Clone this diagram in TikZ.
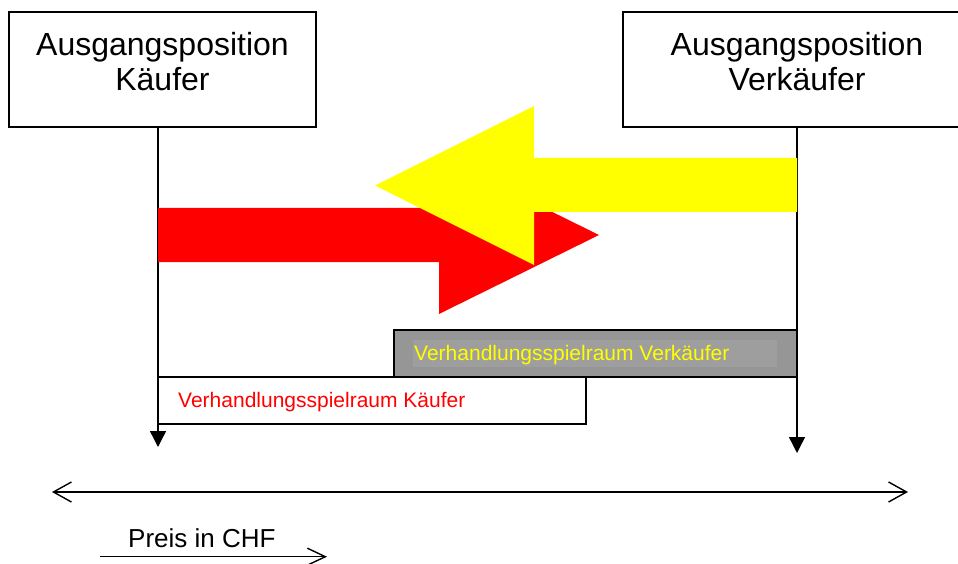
\documentclass[tikz,border=0pt]{standalone}
\usepackage{fontspec}
\setmainfont{Liberation Sans}
\usetikzlibrary{arrows.meta}
\definecolor{grayout}{RGB}{150,150,150}
\definecolor{grayin}{RGB}{158,158,158}
\definecolor{yel}{RGB}{255,255,0}
\definecolor{rd}{RGB}{255,0,0}
\begin{document}
\begin{tikzpicture}[x=1pt,y=-1pt,
  posbox/.style={draw=black,line width=1.4pt,fill=white,inner sep=0pt},
  bigtext/.style={font=\fontsize{32}{35}\selectfont,align=center,inner sep=0pt,anchor=north},
  smalltext/.style={font=\fontsize{21}{24}\selectfont,inner sep=0pt,anchor=base west},
  conn/.style={line width=1.4pt,draw=black},
  downarrow/.style={conn,-{Triangle[length=16pt,width=16pt]}},
  barb/.tip={Straight Barb[length=18pt,width=20pt,line width=1.4pt]}]
\useasboundingbox (0,0) rectangle (958,564);
\fill[white] (0,0) rectangle (958,564);
% starting-position boxes
\node[posbox,minimum width=307pt,minimum height=115pt] (kbox) at (162.5,69.5) {};
\node[bigtext] (ktext) at (162.5,32) {Ausgangsposition\\Käufer};
\node[posbox,minimum width=348pt,minimum height=115pt] (vbox) at (797,69.5) {};
\node[bigtext] (vtext) at (797,32) {Ausgangsposition\\Verkäufer};
% line anchors
\coordinate (kt) at (158,127);
\coordinate (kb) at (158,447);
\coordinate (vt) at (797,127);
\coordinate (vb) at (797,453);
% negotiation ranges
\node[posbox,fill=grayout,minimum width=403pt,minimum height=47pt] (vrange) at (595.5,353.5) {};
\fill[grayin] (413,340) rectangle (777,367);
\node[smalltext,text=yel] (vrtext) at (414,360) {Verhandlungsspielraum Verkäufer};
\node[posbox,minimum width=428pt,minimum height=47pt] (krange) at (372,400.5) {};
\node[smalltext,text=rd] (krtext) at (178,407) {Verhandlungsspielraum Käufer};
% vertical lines
\draw[downarrow] (kt) -- (kb);
\draw[downarrow] (vt) -- (vb);
% big block arrows
\fill[rd] (158,208) -- (439,208) -- (439,156) -- (599,235) -- (439,314) -- (439,262) -- (158,262) -- cycle;
\fill[yel] (797,158) -- (534,158) -- (534,106) -- (375,185.5) -- (534,265) -- (534,212) -- (797,212) -- cycle;
% price axis
\coordinate (al) at (52,492);
\coordinate (ar) at (908,492);
\draw[conn,barb-barb] (al) -- (ar);
\node[font=\fontsize{26}{30}\selectfont,inner sep=0pt,anchor=base west] (preis) at (128,547) {Preis in CHF};
\coordinate (pl) at (100,556.7);
\coordinate (pr) at (327,556.7);
\draw[conn,-{Straight Barb[length=18pt,width=17pt,line width=1.4pt]}] (pl) -- (pr);
\end{tikzpicture}
\end{document}
